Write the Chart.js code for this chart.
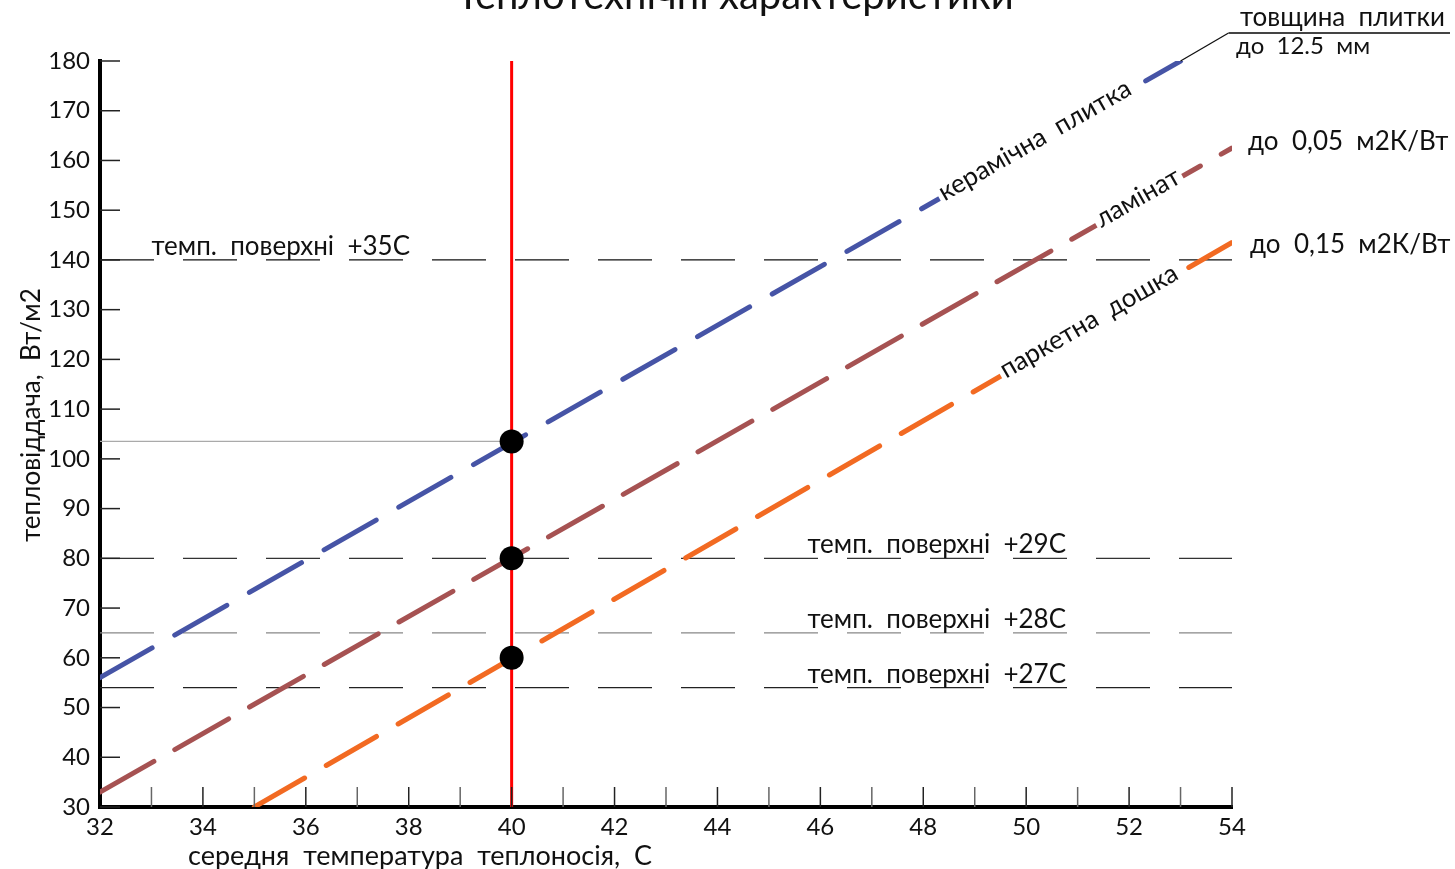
<!DOCTYPE html>
<html>
<head>
<meta charset="utf-8">
<script src="https://cdn.jsdelivr.net/npm/chart.js@4"></script>
<style>
  html, body { margin: 0; padding: 0; background: #fff; }
  #wrap { width: 1455px; height: 869px; }
</style>
</head>
<body>
<div id="wrap"><canvas id="heatChart"></canvas></div>
<script>
const FONT = "Lato, 'DejaVu Sans', sans-serif";

// data
const ceramicX = [32, 53];
const ceramicY = [56, 180];
const laminateX = [32, 54];
const laminateY = [33, 162.5];
const parquetX = [35, 54];
const parquetY = [30, 143.5];

const surfaceLevels = [140, 80, 65, 54];
const surfaceLabels = ["темп.  поверхні  +35С", "темп.  поверхні  +29С", "темп.  поверхні  +28С", "темп.  поверхні  +27С"];
const surfaceLabelX = [33, 45.75, 45.75, 45.75];
const surfaceColors = ["#111", "#333", "#888", "#222"];

const workTemp = 40;
const workPoints = [103.5, 80, 60];
const helperLevel = 103.5;

const xTicks = [32, 34, 36, 38, 40, 42, 44, 46, 48, 50, 52, 54];
const yTicks = [30, 40, 50, 60, 70, 80, 90, 100, 110, 120, 130, 140, 150, 160, 170, 180];

function pts(xs, ys) {
  return xs.map((x, i) => ({ x: x, y: ys[i] }));
}

const datasets = [];
surfaceLevels.forEach((lv, i) => {
  datasets.push({
    data: pts([32, 54], [lv, lv]),
    borderColor: surfaceColors[i],
    borderWidth: 1.3,
    borderDash: [54, 29],
    pointRadius: 0,
    showLine: true,
    order: 10
  });
});
datasets.push({
  data: pts([32, workTemp], [helperLevel, helperLevel]),
  borderColor: "#aaa",
  borderWidth: 1.2,
  pointRadius: 0,
  showLine: true,
  order: 9
});
datasets.push({
  data: pts(ceramicX, ceramicY),
  borderColor: "#4654a6",
  borderWidth: 5,
  borderDash: [60, 26],
  borderCapStyle: "round",
  pointRadius: 0,
  showLine: true,
  order: 5
});
datasets.push({
  data: pts(laminateX, laminateY),
  borderColor: "#a65252",
  borderWidth: 5,
  borderDash: [62, 24],
  borderCapStyle: "round",
  pointRadius: 0,
  showLine: true,
  order: 5
});
datasets.push({
  data: pts(parquetX, parquetY),
  borderColor: "#f26a22",
  borderWidth: 5,
  borderDash: [58, 25],
  borderCapStyle: "round",
  pointRadius: 0,
  showLine: true,
  order: 5
});
datasets.push({
  data: pts([workTemp, workTemp], [30, 180]),
  borderColor: "#ff0000",
  borderWidth: 3,
  pointRadius: 0,
  showLine: true,
  order: 2
});
datasets.push({
  data: workPoints.map(v => ({ x: workTemp, y: v })),
  backgroundColor: "#000",
  borderWidth: 0,
  pointRadius: 12,
  showLine: false,
  order: 0
});

// labels along the sloped lines: [text, centre x, line x/y arrays]
const slopeLabels = [
  ["керамічна  плитка", 50.2, ceramicX, ceramicY],
  ["ламінат", 52.2, laminateX, laminateY],
  ["паркетна  дошка", 51.25, parquetX, parquetY]
];

const extras = {
  id: "extras",
  afterDatasetsDraw(chart) {
    const ctx = chart.ctx;
    const xs = chart.scales.x, ys = chart.scales.y;
    const area = chart.chartArea;
    ctx.save();

    // inward ticks
    ctx.lineWidth = 1.5;
    yTicks.forEach(v => {
      const py = ys.getPixelForValue(v);
      ctx.strokeStyle = "#222";
      ctx.beginPath();
      ctx.moveTo(area.left, py);
      ctx.lineTo(area.left + 20, py);
      ctx.stroke();
    });
    for (let v = 33; v <= 54; v++) {
      const px = xs.getPixelForValue(v);
      ctx.strokeStyle = v % 2 === 0 ? "#222" : "#666";
      ctx.beginPath();
      ctx.moveTo(px, area.bottom);
      ctx.lineTo(px, area.bottom - 20);
      ctx.stroke();
    }

    // surface temperature labels
    ctx.fillStyle = "#111";
    ctx.font = "26px " + FONT;
    ctx.textAlign = "left";
    ctx.textBaseline = "alphabetic";
    surfaceLevels.forEach((lv, i) => {
      ctx.fillText(surfaceLabels[i], xs.getPixelForValue(surfaceLabelX[i]), ys.getPixelForValue(lv) - 5);
    });

    // labels following the dashed lines
    slopeLabels.forEach(l => {
      const [text, xv, lx, ly] = l;
      const p0x = xs.getPixelForValue(lx[0]), p0y = ys.getPixelForValue(ly[0]);
      const p1x = xs.getPixelForValue(lx[1]), p1y = ys.getPixelForValue(ly[1]);
      const ang = Math.atan2(p1y - p0y, p1x - p0x);
      const t = (xv - lx[0]) / (lx[1] - lx[0]);
      const yv = ly[0] + t * (ly[1] - ly[0]);
      const cx = xs.getPixelForValue(xv), cy = ys.getPixelForValue(yv);
      ctx.save();
      ctx.translate(cx, cy);
      ctx.rotate(ang);
      ctx.font = "26px " + FONT;
      const w = ctx.measureText(text).width;
      ctx.fillStyle = "#fff";
      ctx.fillRect(-w / 2 - 3, -6, w + 6, 12);
      ctx.fillStyle = "#111";
      ctx.textAlign = "center";
      ctx.fillText(text, 0, 5);
      ctx.restore();
    });

    // leader line for tile thickness
    const ex = xs.getPixelForValue(ceramicX[1]), ey = ys.getPixelForValue(ceramicY[1]);
    ctx.strokeStyle = "#111";
    ctx.lineWidth = 1.3;
    ctx.beginPath();
    ctx.moveTo(ex, ey);
    ctx.lineTo(ex + 48, 33);
    ctx.stroke();
    ctx.lineWidth = 2;
    ctx.strokeStyle = "#444";
    ctx.beginPath();
    ctx.moveTo(ex + 48, 33);
    ctx.lineTo(1450, 33);
    ctx.stroke();

    ctx.fillStyle = "#111";
    ctx.font = "26px " + FONT;
    ctx.textAlign = "left";
    ctx.fillText("товщина  плитки", 1240, 26);
    ctx.font = "24px " + FONT;
    ctx.fillText("до  12.5  мм", 1236, 54);
    ctx.font = "26px " + FONT;
    ctx.fillText("до  0,05  м2К/Вт", 1248, 150);
    ctx.fillText("до  0,15  м2К/Вт", 1250, 253);

    // title, cut off at top like the original
    ctx.font = "40px " + FONT;
    ctx.textAlign = "center";
    ctx.fillText("Теплотехнічні характеристики", 735, 9);

    // axis titles
    ctx.font = "27px " + FONT;
    ctx.fillText("середня  температура  теплоносія,  С", 420, 865);
    ctx.save();
    ctx.translate(40, 415);
    ctx.rotate(-Math.PI / 2);
    ctx.font = "26px " + FONT;
    ctx.fillText("тепловіддача,  Вт/м2", 0, 0);
    ctx.restore();

    ctx.restore();
  }
};

document.addEventListener("DOMContentLoaded", () => {
  const ctx = document.getElementById("heatChart").getContext("2d");
  new Chart(ctx, {
    type: "scatter",
    data: { datasets: datasets },
    options: {
      responsive: true,
      maintainAspectRatio: false,
      animation: false,
      layout: { padding: { top: 61, right: 223, left: 0, bottom: 0 } },
      plugins: { legend: { display: false }, tooltip: { enabled: false } },
      scales: {
        x: {
          type: "linear",
          min: 32,
          max: 54,
          afterBuildTicks: s => { s.ticks = xTicks.map(v => ({ value: v })); },
          afterFit: s => { s.height = 62; },
          grid: { display: false, drawTicks: false },
          border: { display: true, color: "#000", width: 4 },
          ticks: { color: "#111", padding: 6, font: { family: FONT, size: 24 } }
        },
        y: {
          type: "linear",
          min: 30,
          max: 180,
          afterBuildTicks: s => { s.ticks = yTicks.map(v => ({ value: v })); },
          afterFit: s => { s.width = 100; },
          grid: { display: false, drawTicks: false },
          border: { display: true, color: "#000", width: 4 },
          ticks: { color: "#111", padding: 10, font: { family: FONT, size: 24 } }
        }
      }
    },
    plugins: [extras]
  });
});
</script>
</body>
</html>
